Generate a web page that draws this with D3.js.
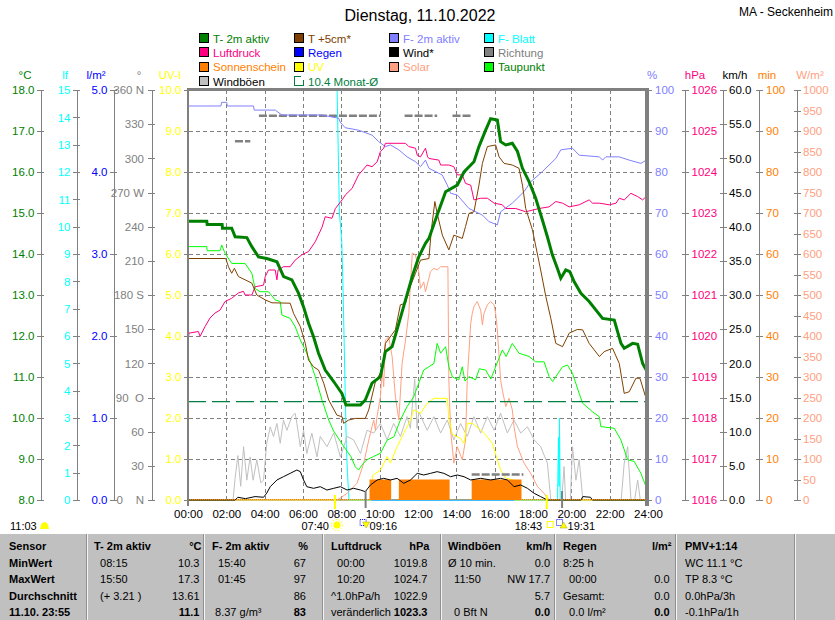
<!DOCTYPE html>
<html>
<head>
<meta charset="utf-8">
<script src="https://cdn.jsdelivr.net/npm/d3@7"></script>
<style>
body { margin: 0; background: #fff; }
svg { font-family: Arial, "Liberation Sans", sans-serif; font-size: 11px; }
text { white-space: pre; }
</style>
</head>
<body>
<svg id="chart" width="835" height="620"></svg>
<script>
// ---- values (hour of day, value) ----
var t2m = [[0,14.8],[0.98,14.8],[1.0,14.72],[1.78,14.72],[1.8,14.63],[2.28,14.63],[2.46,14.42],[3.07,14.4],[3.33,14.18],
  [3.68,13.93],[4.11,13.89],[4.64,13.81],[4.99,13.45],[5.42,13.37],[5.77,13.04],[6.03,12.71],[6.29,12.31],[6.55,11.98],
  [6.81,11.58],[7.16,11.17],[7.6,10.89],[8.03,10.6],[8.24,10.32],[9.0,10.32],[9.25,10.44],[9.6,10.85],[10.04,11.01],
  [10.3,11.62],[10.65,11.74],[11.0,12.31],[11.35,12.88],[11.7,13.45],[12.04,13.93],[12.39,14.26],[12.57,14.38],[13.0,14.95],
  [13.44,15.52],[14.05,15.68],[14.4,16.0],[14.92,16.25],[15.18,16.62],[15.53,17.02],[15.79,17.3],[16.14,17.27],[16.31,16.74],
  [16.58,16.66],[16.92,16.7],[17.19,16.5],[17.45,16.09],[17.8,15.76],[18.14,15.36],[18.49,14.83],[18.75,14.42],[19.01,13.98],
  [19.27,13.65],[19.45,13.41],[19.71,13.61],[19.92,13.57],[20.15,13.32],[20.5,13.04],[20.93,12.84],[21.63,12.43],[22.24,12.39],
  [22.59,11.82],[22.76,11.7],[23.2,11.82],[23.46,11.8],[23.72,11.33],[24,11.09]];

var t5cm = [[0,13.89],[1.97,13.89],[2.11,13.69],[2.28,13.53],[2.42,13.65],[2.63,13.45],[2.98,13.37],[3.33,13.29],[3.59,13.0],
  [4.03,12.88],[4.38,12.81],[5.33,12.8],[5.51,12.55],[5.86,12.23],[6.12,11.82],[6.29,11.41],[6.55,11.25],[6.81,11.17],
  [7.08,10.85],[7.34,10.44],[7.77,10.07],[8.04,10.03],[8.12,9.87],[8.38,9.95],[8.73,9.99],[9.25,9.99],[9.43,10.2],
  [9.78,10.89],[10.13,11.17],[10.3,11.82],[10.82,12.15],[11.08,12.76],[11.35,12.8],[11.52,13.12],[11.87,13.53],[12.13,13.85],
  [12.57,13.89],[12.7,14.6],[12.88,15.28],[13.0,14.99],[13.27,14.46],[13.61,14.1],[13.87,14.46],[14.31,14.38],[14.48,14.67],
  [14.66,14.99],[14.92,15.03],[15.18,15.68],[15.36,16.21],[15.62,16.62],[16.05,16.66],[16.23,16.37],[16.49,16.21],
  [16.92,16.17],[17.27,16.09],[17.45,15.68],[17.62,15.11],[17.97,14.59],[18.4,13.61],[18.67,12.96],[18.93,12.43],
  [19.19,11.82],[19.54,11.74],[19.89,12.07],[20.32,12.16],[20.59,12.15],[20.93,11.82],[21.46,11.5],[21.72,11.62],
  [22.15,11.7],[22.5,11.33],[22.76,10.6],[23.02,10.64],[23.37,10.97],[23.58,10.97],[24,10.32]];

var dewPoint = [[0,14.18],[0.98,14.18],[1.0,14.08],[1.67,14.08],[1.76,14.22],[1.93,14.02],[2.28,13.77],[2.98,13.77],
  [3.33,13.53],[3.5,13.16],[3.76,13.08],[4.2,13.08],[4.55,12.88],[4.81,12.84],[4.9,12.51],[5.33,12.43],[5.59,12.23],
  [5.86,11.9],[6.12,11.66],[6.38,11.37],[6.64,11.01],[6.99,10.44],[7.34,9.95],[7.6,9.68],[8.13,9.3],[8.5,9.06],[8.73,8.81],
  [8.9,8.73],[9.07,8.85],[9.33,8.98],[9.68,9.06],[10.04,9.14],[10.39,9.46],[10.74,9.54],[11.08,9.95],[11.43,10.28],
  [11.78,10.52],[12.0,10.8],[12.3,11.17],[12.57,11.25],[12.83,11.33],[13.0,11.82],[13.18,11.58],[13.44,11.74],[13.61,11.25],
  [13.8,11.0],[14.13,10.93],[14.31,11.25],[14.45,10.9],[14.66,11.01],[15.0,10.93],[15.2,11.2],[15.53,11.17],[15.8,10.95],
  [16.05,11.25],[16.4,11.66],[16.6,11.5],[16.92,11.82],[17.27,11.58],[17.8,11.5],[18.14,11.37],[18.58,11.37],[18.84,11.01],
  [19.02,10.89],[19.54,11.25],[19.8,11.29],[20.06,11.09],[20.41,10.6],[20.59,10.36],[21.11,10.15],[21.46,10.03],[21.54,9.79],
  [22.24,9.75],[22.59,9.46],[22.94,8.98],[23.28,8.94],[23.63,8.65],[23.9,8.32],[24,8.16]];

var humidity = [[0,96.1],[1.72,96.1],[1.75,97],[2.02,97],[2.05,96.1],[3.42,96.1],[3.45,95.1],[4.55,95.1],[4.9,93.9],
  [6.99,93.9],[7.86,93.1],[7.95,92.1],[8.2,90.8],[8.9,90.2],[9.6,89],[9.95,87.4],[10.3,86.2],[10.56,86.6],[11.0,85.4],
  [11.43,83.7],[11.87,82.5],[12.13,81.3],[12.39,82.9],[12.57,80.9],[13.26,79.3],[13.53,76.8],[13.7,74.8],[14.05,74.4],
  [14.66,71.1],[15.36,69.5],[15.7,67.9],[16.14,67.1],[16.31,70.3],[16.92,72.4],[17.53,75.2],[17.88,77.6],[18.49,80.1],
  [19.19,83.3],[19.45,85.4],[20.06,85.8],[20.41,84.1],[21.46,83.7],[21.63,82.9],[21.8,83.7],[22.5,83.7],[23.02,82.9],
  [23.63,82.1],[23.9,82.9],[24,82.9]];

var pressure = [[0,1019.82],[0.05,1020.07],[0.54,1020.11],[0.63,1019.99],[0.89,1020.23],[1.15,1020.44],[1.41,1020.56],
  [1.67,1020.63],[1.93,1020.84],[2.28,1020.92],[2.63,1021.05],[2.89,1021.09],[2.98,1021.0],[3.33,1021.0],[3.5,1021.2],
  [3.94,1021.24],[4.03,1021.45],[4.2,1021.61],[4.55,1021.61],[4.64,1021.37],[4.7,1021.61],[4.98,1021.69],[5.33,1021.69],
  [5.59,1021.85],[5.94,1021.98],[6.29,1022.06],[6.64,1022.3],[6.99,1022.65],[7.16,1022.91],[7.51,1022.87],[7.69,1023.11],
  [8.04,1023.32],[8.21,1023.44],[8.56,1023.6],[8.9,1023.93],[9.34,1024.17],[9.6,1024.13],[9.87,1024.25],[10.04,1024.5],
  [10.21,1024.58],[10.3,1024.7],[11.35,1024.7],[11.52,1024.62],[11.87,1024.58],[11.96,1024.41],[12.13,1024.37],
  [12.39,1024.58],[12.5,1024.37],[12.57,1024.33],[13.09,1024.29],[13.18,1024.17],[13.61,1024.17],[13.87,1024.13],
  [14.05,1023.93],[14.31,1023.93],[14.48,1023.72],[14.75,1023.68],[14.92,1023.32],[15.27,1023.36],[15.62,1023.36],
  [15.97,1023.24],[16.4,1023.2],[16.58,1023.11],[17.1,1023.11],[17.62,1023.03],[17.97,1023.07],[18.32,1023.11],
  [18.84,1023.15],[19.19,1023.28],[19.54,1023.24],[19.89,1023.15],[20.41,1023.2],[20.93,1023.32],[21.11,1023.24],
  [21.46,1023.24],[21.98,1023.2],[22.33,1023.24],[22.5,1023.36],[22.76,1023.32],[23.11,1023.48],[23.46,1023.4],
  [23.72,1023.32],[23.9,1023.4],[24,1023.3]];

var wind = [[0,0],[2.46,0],[2.6,0.4],[3.0,0.2],[3.5,0.5],[3.94,0.4],[4.11,1.0],[4.29,1.95],[4.64,2.93],[4.98,3.41],
  [5.33,3.9],[5.68,4.39],[5.86,4.15],[6.03,2.93],[6.2,1.95],[6.55,1.71],[6.9,1.95],[7.25,1.46],[7.6,1.71],[7.95,1.95],
  [8.3,1.46],[8.64,1.71],[9.0,1.46],[9.25,1.22],[9.52,2.2],[9.87,2.93],[10.21,3.17],[10.56,2.93],[10.91,3.17],[11.26,2.44],
  [11.61,2.93],[11.96,3.9],[12.3,3.66],[12.65,3.9],[13.0,4.15],[13.35,3.9],[13.7,3.41],[14.05,3.66],[14.4,3.41],[14.75,2.93],
  [15.27,3.17],[15.79,2.93],[16.31,3.17],[16.66,2.93],[17.01,1.95],[17.36,2.2],[17.71,1.71],[18.06,0.98],[18.4,0.49],
  [18.75,0],[20.5,0],[20.6,0.5],[21.0,0.4],[21.1,0],[24,0]];

var gusts = [[0,0],[2.35,0],[2.45,3],[2.6,6.5],[2.75,2],[2.9,7.8],[3.07,2.9],[3.24,6.3],[3.4,2.9],[3.59,5.9],[3.8,2.5],
  [3.94,2.9],[4.11,8.3],[4.29,10.7],[4.46,9.3],[4.64,11.2],[4.81,8.3],[4.98,11.7],[5.16,10.2],[5.42,12.2],[5.59,12.7],
  [5.68,11.2],[5.86,7.8],[6.03,10.2],[6.2,6.8],[6.46,9.8],[6.73,6.3],[6.9,9.3],[7.25,7.8],[7.6,9.8],[7.95,6.3],[8.3,9.3],
  [8.64,8.8],[9.0,6.8],[9.34,10.2],[9.69,9.8],[10.04,11.2],[10.39,8.8],[10.73,11.2],[11.08,9.3],[11.43,12.2],[11.6,10.5],
  [11.83,17.7],[11.95,10.5],[12.04,12.9],[12.48,10.2],[12.83,12.2],[13.18,9.8],[13.53,11.7],[13.87,8.8],[14.22,11.2],
  [14.57,9.3],[14.92,12.2],[15.27,9.8],[15.62,12.2],[15.97,10.2],[16.31,12.7],[16.66,9.8],[17.01,11.7],[17.36,9.8],
  [17.71,10.7],[18.06,8.8],[18.4,7.8],[18.75,5.4],[18.93,0],[19.5,0],[19.62,4.9],[19.7,0],[19.95,0],[20.06,7.8],
  [20.24,2.9],[20.41,5.9],[20.6,0],[22.6,0],[22.76,5.4],[22.94,7.8],[23.11,0],[23.3,0],[23.46,2.9],[23.6,0],[24,0]];

var solar = [[0,0],[7.78,0],[8.3,16],[8.82,41],[9.17,90],[9.43,146],[9.6,179],[9.69,195],[9.78,170],[9.86,203],[10.04,252],
  [10.13,317],[10.21,276],[10.3,390],[10.47,398],[10.65,350],[10.82,252],[11.0,195],[11.17,333],[11.35,390],[11.52,455],
  [11.7,602],[11.87,598],[12.04,557],[12.13,516],[12.3,532],[12.39,508],[12.57,541],[12.65,557],[12.83,565],[13.0,561],
  [13.18,569],[13.56,569],[13.61,293],[13.7,171],[13.87,90],[14.05,130],[14.31,98],[14.48,146],[14.57,293],[14.75,430],
  [14.83,455],[14.92,472],[15.09,484],[15.27,463],[15.36,427],[15.44,455],[15.62,476],[15.79,484],[15.97,476],[16.05,455],
  [16.14,415],[16.23,350],[16.31,293],[16.4,268],[16.58,228],[16.75,248],[16.92,220],[17.01,179],[17.19,130],[17.53,90],
  [17.88,65],[18.23,33],[18.58,16],[18.75,4],[18.93,0],[24,0]];

var uv = [[0,0],[9.58,0],[9.62,0.6],[10.04,0.73],[10.39,1.06],[10.56,0.9],[10.91,1.3],[11.26,1.63],[11.61,1.95],[11.78,2.2],
  [12.13,2.11],[12.48,2.36],[12.83,2.48],[13.53,2.48],[13.61,2.0],[13.79,1.6],[14.22,1.5],[14.4,1.38],[14.57,1.87],
  [14.83,1.87],[15.27,1.71],[15.62,1.54],[15.88,1.38],[16.14,0.98],[16.31,0.73],[16.58,0.53],[16.98,0.49],[17.01,0],[24,0]];

var leafWet = [[0,15],[7.78,15],[7.82,13.5],[7.86,12],[7.9,10.5],[8.02,9.5],[8.08,8],[8.14,6],[8.2,4],[8.26,2],[8.32,1],
  [8.4,0],[19.28,0],[19.33,2.3],[19.36,0.5],[19.38,3.0],[19.42,0],[24,0]];

var rain = [[0,0],[24,0]];

// sunshine minutes per 5-minute slot, as periods of the day
var sunStart = [9.47, 11.0, 14.8];
var sunEnd = [10.6, 13.65, 17.4];
var sunMinutes = [5, 5, 5];

// wind direction, held over periods
var dirStart = [2.45, 3.7, 11.3, 13.8, 14.8];
var dirEnd = [3.25, 10.05, 13.0, 14.75, 17.5];
var dirDeg = [315, 337.5, 337.5, 337.5, 22.5];

var monthAvg = 10.4;

var dirTickLabels = ["0    N","30","60","90  O","120","150","180 S","210","240","270 W","300","330","360 N"];

var legendNames = [
  ["T- 2m aktiv", "Luftdruck", "Sonnenschein", "Windböen"],
  ["T +5cm*", "Regen", "UV", "10.4 Monat-Ø"],
  ["F- 2m aktiv", "Wind*", "Solar"],
  ["F- Blatt", "Richtung", "Taupunkt"]
];

// sun / moon times
var sunrise = [7, 40], sunset = [18, 43], moonset = [9, 16], moonrise = [19, 31];
var dayLength = "11:03";

var tableLeft = [
  ["Sensor", "MinWert", "MaxWert", "Durchschnitt", "11.10. 23:55"],
  ["T- 2m aktiv", "  08:15", "  15:50", "  (+ 3.21 )", ""],
  ["F- 2m aktiv", "  15:40", "  01:45", "", " 8.37 g/m³"],
  ["Luftdruck", "  00:00", "  10:20", "^1.0hPa/h", "veränderlich"],
  ["Windböen", "Ø 10 min.", "  11:50", "", "  0 Bft N"],
  ["Regen", "8:25 h", "  00:00", "Gesamt:", "  0.0 l/m²"],
  ["PMV+1:14", "WC 11.1 °C", "TP 8.3 °C", "0.0hPa/3h", "-0.1hPa/1h"]
];
var tableRight = [
  ["", "", "", "", ""],
  ["°C", "10.3", "17.3", "13.61", "11.1"],
  ["%", "67", "97", "86", "83"],
  ["hPa", "1019.8", "1024.7", "1022.9", "1023.3"],
  ["km/h", "0.0", "NW 17.7", "5.7", "0.0"],
  ["l/m²", "", "0.0", "0.0", "0.0"],
  ["", "", "", "", ""]
];

// ---- drawing ----
var svg = d3.select("#chart");
var plotTop = 90, plotBottom = 500;

var x = d3.scaleLinear().domain([0, 24]).range([188, 648]);
var yT = d3.scaleLinear().domain([8, 18]).range([plotBottom, plotTop]);
var yLf = d3.scaleLinear().domain([0, 15]).range([plotBottom, plotTop]);
var yRain = d3.scaleLinear().domain([0, 5]).range([plotBottom, plotTop]);
var yDir = d3.scaleLinear().domain([0, 360]).range([plotBottom, plotTop]);
var yUV = d3.scaleLinear().domain([0, 10]).range([plotBottom, plotTop]);
var yHum = d3.scaleLinear().domain([0, 100]).range([plotBottom, plotTop]);
var yP = d3.scaleLinear().domain([1016, 1026]).range([plotBottom, plotTop]);
var yWind = d3.scaleLinear().domain([0, 60]).range([plotBottom, plotTop]);
var yMin = d3.scaleLinear().domain([0, 100]).range([plotBottom, plotTop]);
var ySol = d3.scaleLinear().domain([0, 1000]).range([plotBottom, plotTop]);

var c = {
  t2m: "#008000", t5: "#804000", hum: "#8080ff", leaf: "#00ffff", press: "#ff0080", rain: "#0000ff",
  wind: "#000000", dir: "#808080", sun: "#ff8000", uv: "#ffff00", solar: "#ffa080", dew: "#00ff00",
  gust: "#c0c0c0", avg: "#008040", axis: "#808080"
};
// legend box colour, text colour
var legendStyle = {
  "T- 2m aktiv": [c.t2m, c.t2m], "Luftdruck": [c.press, c.press], "Sonnenschein": [c.sun, c.sun],
  "Windböen": [c.gust, "#000"], "T +5cm*": [c.t5, c.t5], "Regen": [c.rain, c.rain], "UV": [c.uv, c.uv],
  "10.4 Monat-Ø": [null, c.avg], "F- 2m aktiv": [c.hum, c.hum], "Wind*": [c.wind, "#000"],
  "Solar": [c.solar, c.solar], "F- Blatt": [c.leaf, c.leaf], "Richtung": [c.dir, c.dir], "Taupunkt": [c.dew, c.t2m]
};

// title
svg.append("text").attr("x", 420).attr("y", 21).attr("text-anchor", "middle")
  .style("font-size", "16px").text("Dienstag, 11.10.2022");
svg.append("text").attr("x", 833).attr("y", 16).attr("text-anchor", "end")
  .style("font-size", "12px").text("MA - Seckenheim");

// legend
legendNames.forEach(function(col, ci) {
  col.forEach(function(name, ri) {
    var bx = 199 + ci * 95, by = 33 + ri * 14.4;
    var st = legendStyle[name];
    var g = svg.append("g").attr("shape-rendering", "crispEdges");
    if (st[0]) {
      g.append("rect").attr("x", bx + 0.5).attr("y", by + 0.5).attr("width", 9).attr("height", 9)
        .attr("fill", st[0]).attr("stroke", "#000");
    } else {
      g.append("path").attr("d", "M" + (bx + 6.5) + "," + (by + 0.5) + "H" + (bx + 0.5) + "V" + (by + 9.5) +
        "H" + (bx + 9.5) + "V" + (by + 3.5)).attr("fill", "none").attr("stroke", st[1]);
    }
    svg.append("text").attr("x", bx + 14).attr("y", by + 9.5).attr("fill", st[1])
      .style("font-size", "11.5px").text(name);
  });
});

// grid
var grid = svg.append("g").attr("shape-rendering", "crispEdges").attr("stroke", c.axis)
  .attr("stroke-dasharray", "4,3");
grid.selectAll("line.v").data(d3.range(2, 24, 2)).enter().append("line")
  .attr("x1", function(d) { return Math.round(x(d)) + 0.5; })
  .attr("x2", function(d) { return Math.round(x(d)) + 0.5; })
  .attr("y1", plotTop).attr("y2", plotBottom);
grid.selectAll("line.h").data(d3.range(9, 18)).enter().append("line")
  .attr("x1", 189).attr("x2", 646)
  .attr("y1", function(d) { return Math.round(yT(d)) + 0.5; })
  .attr("y2", function(d) { return Math.round(yT(d)) + 0.5; });

// vertical axes
function vAxis(scale, xPos, right, ticks, fmt, color, pad) {
  var ax = (right ? d3.axisRight(scale) : d3.axisLeft(scale))
    .tickValues(ticks).tickFormat(fmt).tickSizeOuter(0).tickSizeInner(4).tickPadding(pad);
  var g = svg.append("g").attr("transform", "translate(" + xPos + ",0)").call(ax)
    .attr("font-family", null).attr("font-size", null);
  g.selectAll("path, line").attr("shape-rendering", "crispEdges");
  g.select(".domain").attr("stroke", c.axis);
  g.selectAll(".tick line").attr("stroke", c.axis).attr("x1", right ? -3 : 3);
  g.selectAll(".tick text").attr("fill", color).style("font-size", "11.5px");
  return g;
}
var f1 = d3.format(".1f"), f0 = d3.format("d");
vAxis(yT, 41, false, d3.range(8, 19), f1, c.t2m, 2.5);
vAxis(yLf, 77, false, d3.range(0, 16), f0, c.leaf, 2.5);
vAxis(yRain, 114, false, d3.range(0, 6), f1, c.rain, 2.5);
vAxis(yDir, 152, false, d3.range(0, 361, 30), function(d, i) { return dirTickLabels[i]; }, c.axis, 4);
vAxis(yUV, 188, false, d3.range(0, 11), f1, c.uv, 2.5);
vAxis(yHum, 648, true, d3.range(0, 101, 10), f0, c.hum, 3);
vAxis(yP, 685, true, d3.range(1016, 1027), f0, c.press, 2.5);
vAxis(yWind, 723, true, d3.range(0, 61, 5), f1, "#000", 2);
vAxis(yMin, 759, true, d3.range(0, 101, 10), f0, c.sun, 3);
vAxis(ySol, 797, true, d3.range(0, 1001, 50), f0, c.solar, 2);

// unit labels
var units = [["°C", 25, c.t2m], ["lf", 65, c.leaf], ["l/m²", 96, c.rain], ["°", 139, c.axis], ["UV-I", 170, c.uv],
  ["%", 652, c.hum], ["hPa", 695, c.press], ["km/h", 735, "#000"], ["min", 767, c.sun], ["W/m²", 810, c.solar]];
svg.selectAll("text.unit").data(units).enter().append("text").attr("class", "unit")
  .attr("x", function(d) { return d[1]; }).attr("y", 79).attr("text-anchor", "middle")
  .style("font-size", "11.5px")
  .attr("fill", function(d) { return d[2]; }).text(function(d) { return d[0]; });

// time axis
var tx = svg.append("g").attr("transform", "translate(0," + plotBottom + ")")
  .call(d3.axisBottom(x).tickValues(d3.range(0, 25, 2))
    .tickFormat(function(d) { return d3.format("02")(d) + ":00"; }).tickSize(0).tickPadding(10))
  .attr("font-family", null).attr("font-size", null);
tx.select(".domain").remove();
tx.selectAll(".tick text").attr("fill", "#000").style("font-size", "11.5px");

// plot clip
svg.append("clipPath").attr("id", "plot").append("rect")
  .attr("x", 188).attr("y", plotTop).attr("width", 460).attr("height", plotBottom - plotTop + 2);
var plot = svg.append("g").attr("clip-path", "url(#plot)");

function line(data, ys, color, w) {
  plot.append("path").datum(data).attr("fill", "none").attr("stroke", color).attr("stroke-width", w)
    .attr("d", d3.line().x(function(d) { return x(d[0]); }).y(function(d) { return ys(d[1]); }));
}

line(rain, yRain, c.rain, 1);
line(leafWet, yLf, c.leaf, 1);
line(gusts, yWind, c.gust, 1);
line(solar, ySol, c.solar, 1);
line(uv, yUV, c.uv, 1);

// sunshine
plot.selectAll("rect.sun").data(sunStart).enter().append("rect")
  .attr("x", function(d) { return x(d); })
  .attr("width", function(d, i) { return x(sunEnd[i]) - x(d); })
  .attr("y", function(d, i) { return yMin(sunMinutes[i]); })
  .attr("height", function(d, i) { return yMin(0) - yMin(sunMinutes[i]); })
  .attr("fill", c.sun);

line(wind, yWind, c.wind, 1);
plot.append("line").attr("x1", x(0)).attr("x2", x(24)).attr("y1", yMin(0) - 0.5).attr("y2", yMin(0) - 0.5)
  .attr("stroke", c.sun).attr("stroke-width", 1).attr("stroke-dasharray", "1,1");

// wind direction
plot.selectAll("line.dir").data(dirStart).enter().append("line")
  .attr("x1", function(d) { return x(d); })
  .attr("x2", function(d, i) { return x(dirEnd[i]); })
  .attr("y1", function(d, i) { return yDir(dirDeg[i]); })
  .attr("y2", function(d, i) { return yDir(dirDeg[i]); })
  .attr("stroke", c.dir).attr("stroke-width", 2.5).attr("stroke-dasharray", "8,2");

line(dewPoint, yT, c.dew, 1);
line(humidity, yHum, c.hum, 1);
line(pressure, yP, c.press, 1);
line(t5cm, yT, c.t5, 1);

plot.append("line").attr("x1", x(0)).attr("x2", x(24))
  .attr("y1", yT(monthAvg)).attr("y2", yT(monthAvg))
  .attr("stroke", c.avg).attr("stroke-width", 1.2).attr("stroke-dasharray", "18,6");

line(t2m, yT, c.t2m, 3);

// frame
var frame = svg.append("g").attr("fill", c.axis).attr("shape-rendering", "crispEdges");
frame.append("rect").attr("x", 187).attr("y", 88).attr("width", 462).attr("height", 3);
frame.append("rect").attr("x", 187).attr("y", 88).attr("width", 2).attr("height", 418);
frame.append("rect").attr("x", 645).attr("y", 88).attr("width", 4).attr("height", 418);

// sun and moon markers
function hm(t) { return t[0] + t[1] / 60; }
function hmText(t) { return d3.format("02")(t[0]) + ":" + d3.format("02")(t[1]); }
[sunrise, sunset].forEach(function(t) {
  svg.append("rect").attr("x", x(hm(t)) - 1).attr("y", 495).attr("width", 2).attr("height", 14).attr("fill", c.uv);
});
[moonset, moonrise].forEach(function(t) {
  svg.append("rect").attr("x", x(hm(t)) - 1).attr("y", 491).attr("width", 2).attr("height", 17).attr("fill", c.axis);
});
var mk = svg.append("g").style("font-size", "11px");
var by = 530;
mk.append("text").attr("x", 10).attr("y", by).text(dayLength);
mk.append("path").attr("d", "M40,529 Q41,522 44.5,522 Q48,522 49,529 Z").attr("fill", c.uv);

var sx = x(hm(sunrise));
mk.append("text").attr("x", sx - 6).attr("y", by).attr("text-anchor", "end").text(hmText(sunrise));
mk.append("circle").attr("cx", sx + 2).attr("cy", 525).attr("r", 3.5).attr("fill", c.uv);
mk.append("circle").attr("cx", sx + 2).attr("cy", 525).attr("r", 5.5).attr("fill", "none")
  .attr("stroke", c.uv).attr("stroke-dasharray", "1.5,1.5");

var mx = x(hm(moonset));
mk.append("rect").attr("x", mx - 5.5).attr("y", 519.5).attr("width", 6).attr("height", 6).attr("fill", "none")
  .attr("stroke", c.rain).attr("stroke-dasharray", "1,1");
mk.append("path").attr("d", "M" + (mx - 3) + ",522 h7 l-3.5,6 z").attr("fill", c.uv).attr("stroke", "#a0a000")
  .attr("stroke-width", 0.5);
mk.append("text").attr("x", mx + 4).attr("y", by).text(hmText(moonset));

var ssx = x(hm(sunset));
mk.append("text").attr("x", ssx - 4.5).attr("y", by).attr("text-anchor", "end").text(hmText(sunset));
mk.append("rect").attr("x", ssx + 0.5).attr("y", 521.5).attr("width", 6).attr("height", 6).attr("fill", "none")
  .attr("stroke", c.uv);

var mrx = x(hm(moonrise));
mk.append("rect").attr("x", mrx - 5.5).attr("y", 519.5).attr("width", 6).attr("height", 6).attr("fill", "none")
  .attr("stroke", c.rain).attr("stroke-dasharray", "1,1");
mk.append("path").attr("d", "M" + (mrx - 2) + ",528 h7 l-3.5,-6 z").attr("fill", c.uv).attr("stroke", "#a0a000")
  .attr("stroke-width", 0.5);
mk.append("text").attr("x", mrx + 5.5).attr("y", by).text(hmText(moonrise));

// summary table
var tTop = 534;
svg.append("rect").attr("x", 0).attr("y", tTop).attr("width", 835).attr("height", 620 - tTop).attr("fill", "#c0c0c0");
var seps = [87, 204, 323, 441, 555, 676, 795];
var sepG = svg.append("g").attr("shape-rendering", "crispEdges");
seps.forEach(function(s) {
  sepG.append("line").attr("x1", s - 0.5).attr("x2", s - 0.5).attr("y1", tTop).attr("y2", 620).attr("stroke", "#909090");
  sepG.append("line").attr("x1", s + 0.5).attr("x2", s + 0.5).attr("y1", tTop).attr("y2", 620).attr("stroke", "#f4f4f4");
});
var colLeft = [9, 94, 212, 331, 448, 563, 685];
var colRight = [0, 199.5, 306, 427.5, 550, 669.5, 0];
var rowBase = [550, 566.5, 583, 599.5, 615.5];
var tab = svg.append("g").style("font-size", "11px");
tableLeft.forEach(function(col, ci) {
  col.forEach(function(txt, ri) {
    if (!txt) return;
    tab.append("text").attr("x", colLeft[ci]).attr("y", rowBase[ri])
      .attr("font-weight", (ci == 0 || ri == 0) ? "bold" : null).text(txt);
  });
});
tableRight.forEach(function(col, ci) {
  col.forEach(function(txt, ri) {
    if (!txt) return;
    tab.append("text").attr("x", colRight[ci] + (ri == 0 ? 2 : 0)).attr("y", rowBase[ri]).attr("text-anchor", "end")
      .attr("font-weight", (ri == 0 || ri == 4) ? "bold" : null).text(txt);
  });
});
</script>
</body>
</html>
